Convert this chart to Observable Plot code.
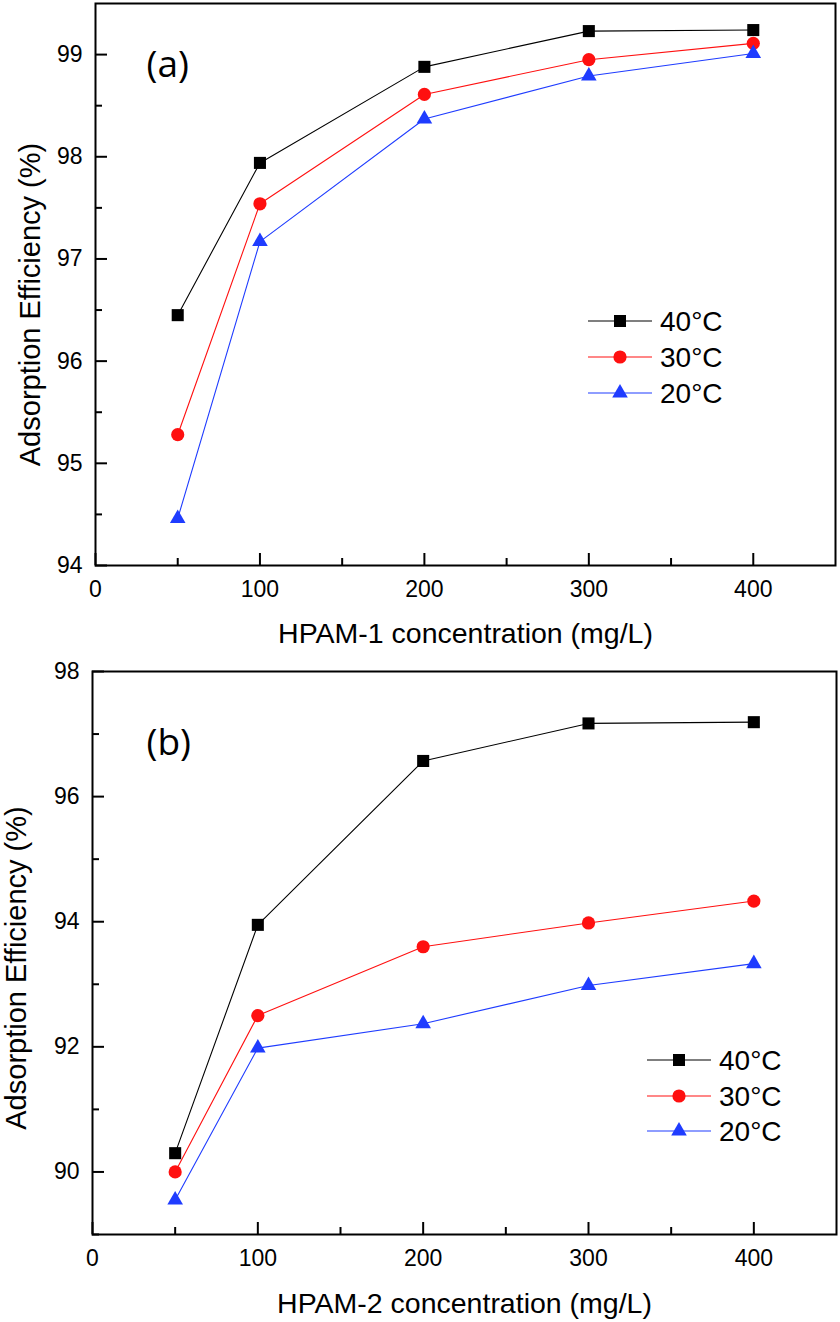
<!DOCTYPE html>
<html>
<head>
<meta charset="utf-8">
<script src="https://cdn.jsdelivr.net/npm/d3@7"></script>
<script src="https://cdn.jsdelivr.net/npm/@observablehq/plot@0.6"></script>
<style>
  html, body { margin: 0; padding: 0; background: #fff; }
  #wrap { position: relative; width: 840px; height: 1322px; }
  #wrap > svg { display: block; }
  #legend { position: absolute; left: 0; top: 0; pointer-events: none; }
</style>
</head>
<body>
<div id="wrap"></div>
<script>
// ---- data ----
const concentrations = [50, 100, 200, 300, 400];
const seriesNames = ["40°C", "30°C", "20°C"];
const seriesColors = ["#000000", "#ff1010", "#1f3cff"];
const seriesSymbols = ["square", "circle", "triangle"];

const hpam1_40 = [96.45, 97.94, 98.88, 99.23, 99.24];
const hpam1_30 = [95.28, 97.54, 98.61, 98.95, 99.11];
const hpam1_20 = [94.46, 97.17, 98.37, 98.79, 99.01];

const hpam2_40 = [90.30, 93.95, 96.57, 97.17, 97.19];
const hpam2_30 = [90.00, 92.50, 93.60, 93.98, 94.33];
const hpam2_20 = [89.55, 91.98, 92.37, 92.98, 93.33];

const xMajorTicks = [0, 100, 200, 300, 400];
const xMinorTicks = [50, 150, 250, 350];
const yMajorA = [94, 95, 96, 97, 98, 99];
const yMinorA = [94.5, 95.5, 96.5, 97.5, 98.5];
const yMajorB = [90, 92, 94, 96, 98];
const yMinorB = [89, 91, 93, 95, 97];

const yLabel = "Adsorption Efficiency (%)";
const xLabelA = "HPAM-1 concentration (mg/L)";
const xLabelB = "HPAM-2 concentration (mg/L)";

// ---- helpers ----
const FONT = "'Liberation Sans', Arial, sans-serif";
const TICK_FONT = 23;
const symbolR = {square: 6.8, circle: 6.6, triangle: 5.8};
const fmt = d3.format("d");

function rowsFor(seriesValues) {
  const rows = [];
  seriesValues.forEach((vals, si) => {
    concentrations.forEach((c, i) => rows.push({x: c, y: vals[i], s: seriesNames[si]}));
  });
  return rows;
}

function panel(opt) {
  const rows = rowsFor(opt.values);
  const marks = [
    // tick marks (inward)
    Plot.axisX({ticks: xMajorTicks, tickSize: -12, tickFormat: () => "", label: null, strokeWidth: 2}),
    Plot.axisX({ticks: xMinorTicks, tickSize: -7, tickFormat: () => "", label: null, strokeWidth: 2}),
    Plot.axisY({ticks: opt.yMajor, tickSize: -12, tickFormat: () => "", label: null, strokeWidth: 2}),
    Plot.axisY({ticks: opt.yMinor, tickSize: -7, tickFormat: () => "", label: null, strokeWidth: 2}),
    // tick labels
    Plot.text(xMajorTicks, {x: d => d, text: d => fmt(d), frameAnchor: "bottom", textAnchor: "middle", lineAnchor: "middle", dy: 24, fontSize: TICK_FONT, fill: "#000"}),
    Plot.text(opt.yMajor, {y: d => d, text: d => fmt(d), frameAnchor: "left", textAnchor: "end", lineAnchor: "middle", dx: -13, fontSize: TICK_FONT, fill: "#000"}),
    Plot.frame({stroke: "#000", strokeWidth: 2}),
    Plot.line(rows, {x: "x", y: "y", z: "s", stroke: "s", strokeWidth: 1.1})
  ];
  seriesNames.forEach((name, si) => {
    marks.push(Plot.dot(rows.filter(d => d.s === name), {
      x: "x", y: "y", symbol: seriesSymbols[si], r: symbolR[seriesSymbols[si]],
      fill: seriesColors[si], stroke: "none"
    }));
  });
  marks.push(
    Plot.text([opt.xLabel], {frameAnchor: "bottom", textAnchor: "middle", lineAnchor: "middle", dy: opt.xLabelDy, fontSize: 28.5, fill: "#000"}),
    Plot.text([yLabel], {frameAnchor: "left", textAnchor: "middle", lineAnchor: "middle", rotate: -90, dx: opt.yLabelDx, dy: opt.yLabelDy, fontSize: 29, fill: "#000"}),
    Plot.text([opt.tag], {frameAnchor: "top-left", textAnchor: "start", lineAnchor: "middle", dx: opt.tagDx, dy: opt.tagDy, fontSize: 37, fontFamily: "'Open Sans', Lato, sans-serif", fill: "#000"})
  );
  return Plot.plot({
    width: 840,
    height: opt.height,
    marginTop: opt.mt, marginBottom: opt.mb, marginLeft: opt.ml, marginRight: opt.mr,
    style: {fontFamily: FONT, background: "white", color: "#000", overflow: "visible"},
    x: {domain: [0, 450]},
    y: {domain: opt.yDomain},
    color: {domain: seriesNames, range: seriesColors},
    marks
  });
}

const wrap = document.getElementById("wrap");

wrap.appendChild(panel({
  values: [hpam1_40, hpam1_30, hpam1_20],
  yDomain: [94, 99.5], yMajor: yMajorA, yMinor: yMinorA,
  xLabel: xLabelA, tag: "(a)",
  height: 648, mt: 3, mb: 83, ml: 95, mr: 5,
  xLabelDy: 68, yLabelDx: -65, yLabelDy: 20, tagDx: 51, tagDy: 62
}));

wrap.appendChild(panel({
  values: [hpam2_40, hpam2_30, hpam2_20],
  yDomain: [89, 98], yMajor: yMajorB, yMinor: yMinorB,
  xLabel: xLabelB, tag: "(b)",
  height: 674, mt: 23, mb: 88, ml: 92, mr: 4,
  xLabelDy: 69, yLabelDx: -76, yLabelDy: 15, tagDx: 54, tagDy: 72
}));

// ---- legends (overlay) ----
const legendSvg = d3.select(wrap).append("svg")
  .attr("id", "legend").attr("width", 840).attr("height", 1322)
  .style("font-family", FONT);

const d3Symbols = {square: d3.symbolSquare, circle: d3.symbolCircle, triangle: d3.symbolTriangle};
const legends = [
  {x0: 588, x1: 652, mx: 620, tx: 660, ys: [321, 357, 393]},
  {x0: 647, x1: 711, mx: 679, tx: 719, ys: [1060, 1096, 1131]}
];
legends.forEach(L => {
  seriesNames.forEach((name, si) => {
    const g = legendSvg.append("g");
    const y = L.ys[si];
    g.append("line").attr("x1", L.x0).attr("x2", L.x1).attr("y1", y).attr("y2", y)
      .attr("stroke", seriesColors[si]).attr("stroke-width", 1.1);
    const r = symbolR[seriesSymbols[si]];
    g.append("path")
      .attr("d", d3.symbol().type(d3Symbols[seriesSymbols[si]]).size(Math.PI * r * r)())
      .attr("transform", `translate(${L.mx},${y})`)
      .attr("fill", seriesColors[si]);
    g.append("text").attr("x", L.tx).attr("y", y).attr("dy", "0.35em")
      .attr("font-size", 28).attr("fill", "#000").text(name);
  });
});
</script>
</body>
</html>
